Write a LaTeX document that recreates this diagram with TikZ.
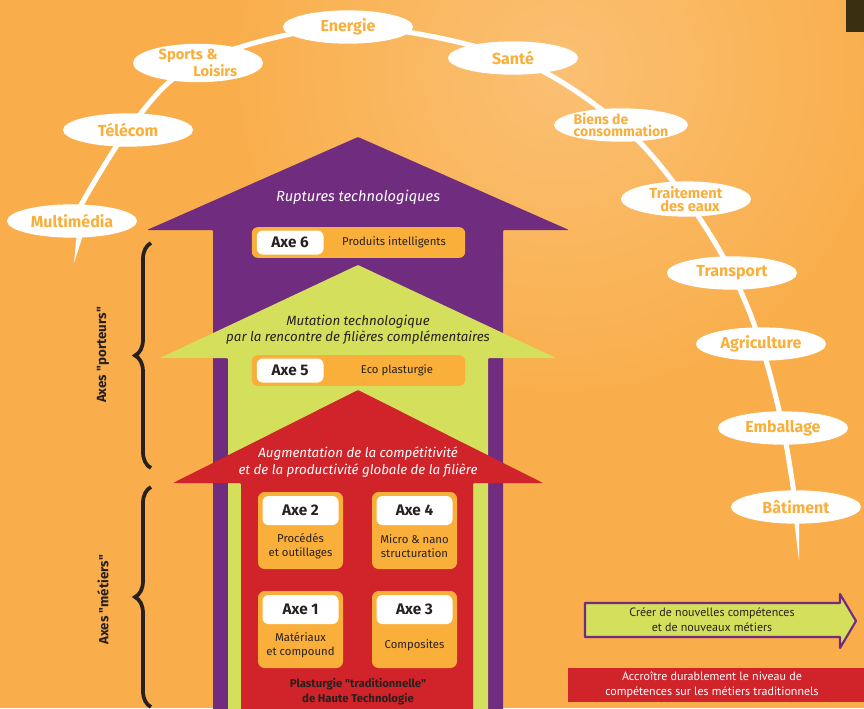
\documentclass[tikz,border=0pt]{standalone}
\usepackage{fontspec}
\setmainfont{Fira Sans}
\newfontfamily\plainfira{Fira Sans}
\newfontfamily\narrowfont{PT Sans}
\newcommand{\straightquote}{{\plainfira"}}
\usetikzlibrary{positioning,shapes.geometric,decorations.pathreplacing,backgrounds}

\definecolor{bgorange}{RGB}{249,174,75}
\definecolor{lightorange}{RGB}{251,192,115}
\definecolor{boxorange}{RGB}{250,175,59}
\definecolor{axepurple}{RGB}{112,44,126}
\definecolor{axegreen}{RGB}{212,223,91}
\definecolor{axered}{RGB}{209,35,42}
\definecolor{darktext}{RGB}{40,32,30}
\definecolor{darkbrown}{RGB}{58,47,16}

\begin{document}
\begin{tikzpicture}[x=0.75pt,y=-0.75pt,
  sector/.style={ellipse, fill=white, minimum width=97.5pt, minimum height=25pt, inner sep=0pt, text=boxorange, align=center, font=\bfseries\fontsize{12}{12}\selectfont},
  sector2/.style={sector, font=\bfseries\fontsize{11}{9.6}\selectfont},
  arrowtext/.style={align=center, font=\itshape\fontsize{10}{12}\selectfont},
  axebar/.style={fill=boxorange, rounded corners=4.5pt, minimum width=160pt, minimum height=23pt, inner sep=0pt},
  axebox/.style={fill=boxorange, rounded corners=5pt, minimum width=63.75pt, minimum height=57.75pt, inner sep=0pt},
  axetag/.style={fill=white, rounded corners=4.5pt, minimum width=50pt, minimum height=18pt, inner sep=0pt, text=darktext, font=\bfseries\fontsize{11.5}{12}\selectfont},
  axetag2/.style={axetag, minimum width=57pt, minimum height=21.75pt},
  axetext/.style={text=darktext, align=center, font=\fontsize{8.5}{10.5}\selectfont},
  axebrace/.style={decorate, decoration={brace, amplitude=12pt}, line width=2.8pt, darktext},
  sidetext/.style={rotate=90, text=darktext, font=\bfseries\fontsize{10}{10}\selectfont},
  boxtext/.style={align=center, font=\narrowfont\fontsize{9}{11}\selectfont}]
  \useasboundingbox (0,0) rectangle (864,708);
  \clip (0,0) rectangle (864,708);

  % sectors on the arc
  \node[sector] (multi) at (72,221) {Multimédia};
  \node[sector] (telecom) at (128,130) {Télécom};
  \node[sector2, align=left, font=\bfseries\fontsize{11}{10.5}\selectfont] (sport) at (198,63) {Sports \&\\\hspace*{26pt}Loisirs};
  \node[sector] (energie) at (348,27) {Energie};
  \node[sector] (sante) at (513,58) {Santé};
  \node[sector2, align=left, font=\bfseries\fontsize{10.5}{9}\selectfont] (biens) at (621,125) {Biens de\\consommation};
  \node[sector2] (eaux) at (686,199) {Traitement\\\hspace*{6pt}des eaux};
  \node[sector] (transport) at (732,273) {Transport};
  \node[sector] (agri) at (761,344) {Agriculture};
  \node[sector] (emball) at (783,428) {Emballage};
  \node[sector] (batiment) at (796,507) {Bâtiment};
  \coordinate (arcstart) at (74,263);
  \coordinate (arcend) at (799,560);

  \begin{scope}[on background layer]
    \fill[bgorange] (0,0) rectangle (864,708);
    \shade[inner color=lightorange, outer color=bgorange] (560,70) circle (330);
    \fill[darkbrown] (846,0) rectangle (864,32);
    \draw[white, line width=3.8pt] plot[smooth, tension=0.55] coordinates {(multi) (telecom) (sport) (energie) (sante) (biens) (eaux) (transport) (agri) (emball) (batiment)};
    \fill[white] (77,232) -- (84,232) -- (arcstart) -- cycle;
    \fill[white] (794,520) -- (799,520) -- (arcend) -- cycle;
  \end{scope}

  % the three arrows
  \fill[axepurple, rounded corners=0.8pt] (213,720) -- (213,230) -- (147,230) -- (358,137) -- (569,230) -- (503,230) -- (503,720) -- cycle;
  \fill[axegreen, rounded corners=0.8pt] (228,720) -- (228,358) -- (160,358) -- (358,265) -- (556,358) -- (488,358) -- (488,720) -- cycle;
  \fill[axered, rounded corners=0.8pt] (241,720) -- (241,483) -- (173,483) -- (358,390) -- (543,483) -- (473,483) -- (473,720) -- cycle;

  \node[arrowtext, text=white, font=\itshape\fontsize{11}{13}\selectfont] (rupture) at (358,197) {Ruptures technologiques};
  \node[arrowtext, text=darktext] (mutation) at (358,330) {Mutation technologique\\par la rencontre de filières complémentaires};
  \node[arrowtext, text=white, font=\itshape\fontsize{10}{12.75}\selectfont] (compet) at (358,462) {Augmentation de la compétitivité\\et de la productivité globale de la filière};

  % axes 6 and 5
  \node[axebar] (bar6) at (358.5,242.5) {};
  \node[axetag, anchor=west] (tag6) at ([xshift=3.75pt]bar6.west) {Axe 6};
  \node[axetext] (txt6) at (394,242) {Produits intelligents};
  \node[axebar] (bar5) at (358.5,370.5) {};
  \node[axetag, anchor=west] (tag5) at ([xshift=3.75pt]bar5.west) {Axe 5};
  \node[axetext] (txt5) at (397,370) {Eco plasturgie};

  % axes 1 to 4
  \node[axebox] (box2) at (300.5,530.5) {};
  \node[axebox] (box4) at (414.5,530.5) {};
  \node[axebox] (box1) at (300.5,629.5) {};
  \node[axebox] (box3) at (414.5,629.5) {};
  \node[axetag2, anchor=north] (tag2) at ([yshift=-3pt]box2.north) {Axe 2};
  \node[axetag2, anchor=north] (tag4) at ([yshift=-3pt]box4.north) {Axe 4};
  \node[axetag2, anchor=north] (tag1) at ([yshift=-3pt]box1.north) {Axe 1};
  \node[axetag2, anchor=north] (tag3) at ([yshift=-3pt]box3.north) {Axe 3};
  \node[axetext] (txt2) at (300.5,546) {Procédés\\et outillages};
  \node[axetext] (txt4) at (414.5,546) {Micro \& nano\\structuration};
  \node[axetext] (txt1) at (300.5,645.5) {Matériaux\\et compound};
  \node[axetext] (txt3) at (414.5,645) {Composites};
  \node[axetext, font=\bfseries\fontsize{8.5}{11.25}\selectfont] (tradition) at (358,691.5) {Plasturgie \straightquote traditionnelle\straightquote\\de Haute Technologie};

  % braces
  \draw[axebrace] (151,468) -- (151,243);
  \draw[axebrace] (151,707) -- (151,487);
  \node[sidetext] (porteurs) at (103,355) {Axes \straightquote porteurs\straightquote};
  \node[sidetext] (metiers) at (103,600) {Axes \straightquote métiers\straightquote};

  % legend
  \draw[axepurple, fill=axegreen, line width=1.6pt, line join=round] (585,603) -- (840,603) -- (840,594) -- (856,621) -- (840,648) -- (840,637) -- (585,637) -- cycle;
  \node[boxtext, text=darktext] (creer) at (712,620) {Créer de nouvelles compétences\\et de nouveaux métiers};
  \fill[axered] (568,668) rectangle (870,702);
  \node[boxtext, text=white] (accroitre) at (712,685) {Accroître durablement le niveau de\\compétences sur les métiers traditionnels};
\end{tikzpicture}
\end{document}
